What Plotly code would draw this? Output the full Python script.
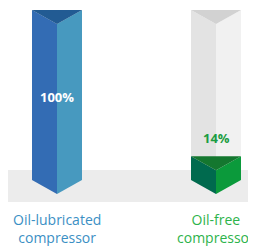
import plotly.graph_objects as go

# ---- data ----
categories = ["Oil-lubricated<br>compressor", "Oil-free<br>compressor"]
values = [100, 14]
value_labels = ["100%", "14%"]
track_max = 100

# ---- styles ----
face_left = ["#336cb4", "#006a4e"]
face_right = ["#4799bf", "#0b9a3b"]
face_top = ["#225b93", "#14772f"]
track_left, track_right, track_top = "#e3e3e3", "#f1f1f1", "#d2d2d2"
cat_colors = ["#3b8fc4", "#2db34b"]
val_colors = ["#ffffff", "#1b9d42"]

OFF = 8  # default page body margin
W, H = 256 - OFF, 246 - OFF
px_per_unit_y = 1.7
px_per_unit_x = 159.0
x0_px, y0_px = 57.0 - OFF, 180.0 - OFF
half_w = 25 / px_per_unit_x
depth = 14 / px_per_unit_y

xr = [-x0_px / px_per_unit_x, (W - x0_px) / px_per_unit_x]
yr = [(y0_px - H) / px_per_unit_y, y0_px / px_per_unit_y]

fig = go.Figure()


def poly(xs, ys, color):
    fig.add_trace(go.Scatter(x=xs + [xs[0]], y=ys + [ys[0]], mode="lines",
                             fill="toself", fillcolor=color,
                             line=dict(width=0, color=color),
                             hoverinfo="skip", showlegend=False))


def prism(c, v, cl, cr, ct):
    poly([c - half_w, c, c, c - half_w], [v, v - depth, -depth, 0], cl)
    poly([c, c + half_w, c + half_w, c], [v - depth, v, 0, -depth], cr)
    poly([c - half_w, c + half_w, c], [v, v, v - depth], ct)


for i, v in enumerate(values):
    prism(i, track_max, track_left, track_right, track_top)
for i, v in enumerate(values):
    prism(i, v, face_left[i], face_right[i], face_top[i])

annotations = []
for i, v in enumerate(values):
    inside = v > 50
    annotations.append(dict(x=i, y=(v / 2 - 1) if inside else v + 10.6,
                            text="<b>%s</b>" % value_labels[i], showarrow=False,
                            xanchor="center", yanchor="middle",
                            font=dict(family="Open Sans", size=13, color=val_colors[i])))
    annotations.append(dict(x=i, y=(y0_px - (228.5 - OFF)) / px_per_unit_y,
                            text=categories[i], showarrow=False,
                            xanchor="center", yanchor="middle",
                            font=dict(family="Open Sans", size=14, color=cat_colors[i])))

fig.update_layout(
    width=W, height=H, margin=dict(l=0, r=0, t=0, b=0),
    paper_bgcolor="white", plot_bgcolor="white",
    xaxis=dict(range=xr, visible=False, fixedrange=True),
    yaxis=dict(range=yr, visible=False, fixedrange=True),
    annotations=annotations,
    shapes=[dict(type="rect", xref="paper", yref="y", layer="below",
                 x0=0, x1=1, y0=(y0_px - (202 - OFF)) / px_per_unit_y,
                 y1=(y0_px - (170 - OFF)) / px_per_unit_y,
                 fillcolor="#ececec", line=dict(width=0))],
)

fig.write_html("out.html")
